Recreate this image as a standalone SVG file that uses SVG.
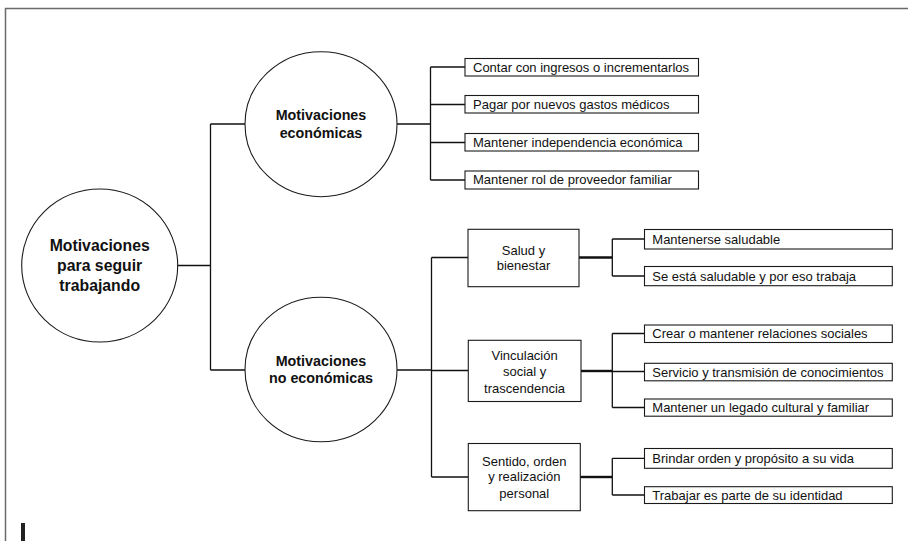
<svg xmlns="http://www.w3.org/2000/svg" width="908" height="541" viewBox="0 0 908 541">
<style>
.frame{fill:none;stroke:#6a6a6a;stroke-width:1.5}
.circ{fill:#fff;stroke:#1a1a1a;stroke-width:1.1}
.box{fill:#fff;stroke:#1a1a1a;stroke-width:1.1}
.con{fill:none;stroke:#111;stroke-width:1.3}
.thick{fill:none;stroke:#111;stroke-width:2.4}
.tb{font-family:"Liberation Sans",Arial,sans-serif;font-weight:bold;fill:#111;text-anchor:middle}
.tm{font-family:"Liberation Sans",Arial,sans-serif;font-size:13px;fill:#111;text-anchor:middle}
.tl{font-family:"Liberation Sans",Arial,sans-serif;font-size:13px;fill:#111}
</style>
<rect width="908" height="541" fill="#fff"/>
<path class="frame" d="M5.5 541 V8.5 H908"/>
<rect x="21" y="523" width="4" height="18" fill="#222"/>

<g id="connectors">
  <path class="con" d="M177.5 265.5 H210.5 M210.5 124 V370 M210.5 124 H245 M210.5 370 H245"/>
  <path class="con" d="M397 124 H430.5 M430.5 67 V180 M430.5 67 H465 M430.5 104.5 H465 M430.5 142.5 H465 M430.5 180 H465"/>
  <path class="con" d="M397 370 H431.5 M431.5 257.5 V477 M431.5 257.5 H468 M431.5 370.5 H468 M431.5 477 H468"/>
  <path class="thick" d="M579 257.5 H612"/>
  <path class="con" d="M612.3 239 V276 M612.3 239 H644.5 M612.3 276 H644.5"/>
  <path class="thick" d="M581 371 H612"/>
  <path class="con" d="M612.3 333.5 V407.5 M612.3 333.5 H644.5 M612.3 371.5 H644.5 M612.3 407.5 H644.5"/>
  <path class="thick" d="M580 477 H612"/>
  <path class="con" d="M612.3 458.3 V495 M612.3 458.3 H644.5 M612.3 495 H644.5"/>
</g>

<g id="root">
  <ellipse class="circ" cx="99.7" cy="265.5" rx="78" ry="76.5"/>
  <text class="tb" font-size="15.8" x="99.7" y="251.3">Motivaciones</text>
  <text class="tb" font-size="15.8" x="99.7" y="271">para seguir</text>
  <text class="tb" font-size="15.8" x="99.7" y="290.6">trabajando</text>
</g>

<g id="econ">
  <ellipse class="circ" cx="321" cy="124.2" rx="76" ry="72.5"/>
  <text class="tb" font-size="14.3" x="321" y="120">Motivaciones</text>
  <text class="tb" font-size="14.3" x="321" y="138">económicas</text>
</g>

<g id="noecon">
  <ellipse class="circ" cx="321" cy="369.5" rx="76" ry="72.2"/>
  <text class="tb" font-size="14.3" x="321" y="365.7">Motivaciones</text>
  <text class="tb" font-size="14.3" x="321" y="383.3">no económicas</text>
</g>

<g id="e1"><rect class="box" x="465" y="58.5" width="233.5" height="17.5"/><text class="tl" x="473" y="71.6">Contar con ingresos o incrementarlos</text></g>
<g id="e2"><rect class="box" x="465" y="95.5" width="233.5" height="17.5"/><text class="tl" x="473" y="108.6">Pagar por nuevos gastos médicos</text></g>
<g id="e3"><rect class="box" x="465" y="133.5" width="233.5" height="17.5"/><text class="tl" x="473" y="146.6">Mantener independencia económica</text></g>
<g id="e4"><rect class="box" x="465" y="171" width="233.5" height="18"/><text class="tl" x="473" y="184.4">Mantener rol de proveedor familiar</text></g>

<g id="salud">
  <rect class="box" x="468" y="229.3" width="111" height="57.4"/>
  <text class="tm" x="523.5" y="255.3">Salud y</text>
  <text class="tm" x="523.5" y="269.8">bienestar</text>
</g>
<g id="vinc">
  <rect class="box" x="468.3" y="340.3" width="112.7" height="61.2"/>
  <text class="tm" x="524.6" y="359.6">Vinculación</text>
  <text class="tm" x="524.6" y="375.8">social y</text>
  <text class="tm" x="524.6" y="392.8">trascendencia</text>
</g>
<g id="sent">
  <rect class="box" x="468.3" y="443.5" width="112" height="67.2"/>
  <text class="tm" x="524.3" y="466.3">Sentido, orden</text>
  <text class="tm" x="524.3" y="481.3">y realización</text>
  <text class="tm" x="524.3" y="497.9">personal</text>
</g>

<g id="s1"><rect class="box" x="644.5" y="229.5" width="247.8" height="19.5"/><text class="tl" x="652.3" y="243.8">Mantenerse saludable</text></g>
<g id="s2"><rect class="box" x="644.5" y="266.5" width="247.8" height="19.2"/><text class="tl" x="652.3" y="280.6">Se está saludable y por eso trabaja</text></g>
<g id="v1"><rect class="box" x="644.5" y="325" width="247.8" height="17.5"/><text class="tl" x="652.3" y="338.3">Crear o mantener relaciones sociales</text></g>
<g id="v2"><rect class="box" x="644.5" y="363.3" width="247.8" height="17.5"/><text class="tl" x="652.3" y="376.5">Servicio y transmisión de conocimientos</text></g>
<g id="v3"><rect class="box" x="644.5" y="399" width="247.8" height="17.2"/><text class="tl" x="652.3" y="412.1">Mantener un legado cultural y familiar</text></g>
<g id="n1"><rect class="box" x="644.5" y="448.5" width="247.8" height="19.8"/><text class="tl" x="652.3" y="462.8">Brindar orden y propósito a su vida</text></g>
<g id="n2"><rect class="box" x="644.5" y="486.7" width="247.8" height="16.8"/><text class="tl" x="652.3" y="499.6">Trabajar es parte de su identidad</text></g>
</svg>
